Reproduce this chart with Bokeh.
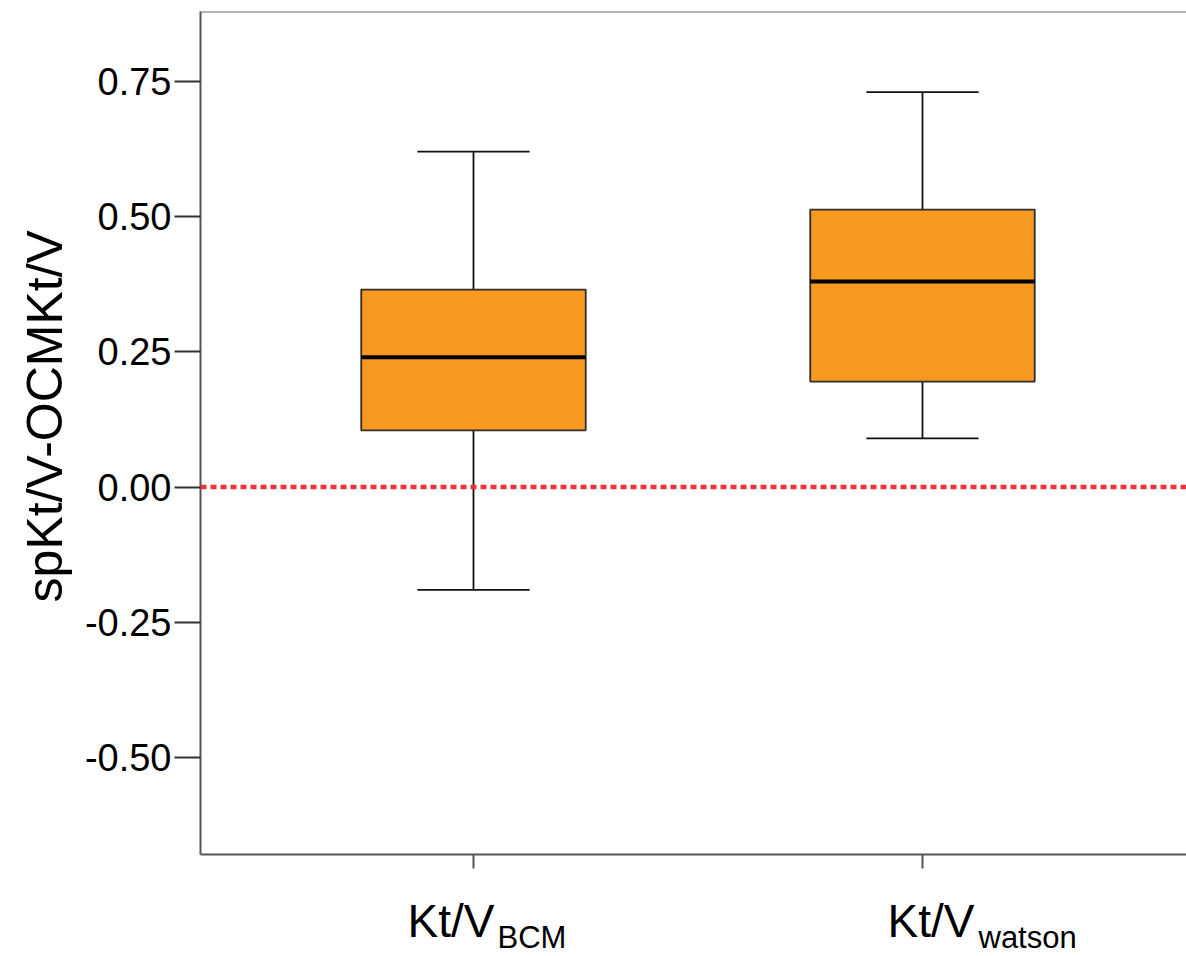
import math
from bokeh.plotting import figure
from bokeh.layouts import column, row
from bokeh.models import (ColumnDataSource, FixedTicker, Span, NumeralTickFormatter, Range1d)
from bokeh.core.properties import value
from bokeh.embed import file_html
from bokeh.resources import INLINE

# ---- data ----
categories = ["BCM", "watson"]
main_label = "Kt/V"
y_title = "spKt/V-OCMKt/V"
whisker_low = [-0.19, 0.09]
q1 = [0.105, 0.195]
median = [0.24, 0.38]
q3 = [0.365, 0.513]
whisker_high = [0.62, 0.73]
y_ticks = [-0.50, -0.25, 0.00, 0.25, 0.50, 0.75]
reference_value = 0.0

xpos = [i + 1 for i in range(len(categories))]
box_w = 0.5
cap_w = 0.25

src = ColumnDataSource(dict(
    x=xpos, lo=whisker_low, q1=q1, med=median, q3=q3, hi=whisker_high,
    xl=[x - box_w / 2 for x in xpos], xr=[x + box_w / 2 for x in xpos],
    cl=[x - cap_w / 2 for x in xpos], cr=[x + cap_w / 2 for x in xpos],
))

FONT = "Liberation Sans"
x_range = Range1d(0.392, 2.588)
y_range = Range1d(-0.679, 0.879)

LEFT_W = 75

# ---- main plot ----
p = figure(width=1186 - LEFT_W, height=895, output_backend="svg", toolbar_location=None,
           x_range=x_range, y_range=y_range,
           min_border_left=200 - LEFT_W, min_border_right=0, min_border_top=11, min_border_bottom=41)
p.outline_line_color = None
p.grid.grid_line_color = None
p.background_fill_color = "white"
p.border_fill_color = "white"

wc = "#111111"
p.segment(x0="x", y0="q3", x1="x", y1="hi", source=src, line_color=wc, line_width=1.8)
p.segment(x0="x", y0="q1", x1="x", y1="lo", source=src, line_color=wc, line_width=1.8)
p.segment(x0="cl", y0="hi", x1="cr", y1="hi", source=src, line_color=wc, line_width=1.8)
p.segment(x0="cl", y0="lo", x1="cr", y1="lo", source=src, line_color=wc, line_width=1.8)
p.vbar(x="x", width=box_w, bottom="q1", top="q3", source=src,
       fill_color="#F7991F", line_color="#2e2e2e", line_width=1.8)
p.segment(x0="xl", y0="med", x1="xr", y1="med", source=src, line_color="black", line_width=4)

p.add_layout(Span(location=reference_value, dimension="width", line_color="#EF333B",
                  line_width=4.5, line_dash="6 4"))
p.add_layout(Span(location=0.879, dimension="width", line_color="#6e6e6e", line_width=2))

ya = p.yaxis[0]
ya.ticker = FixedTicker(ticks=y_ticks)
ya.formatter = NumeralTickFormatter(format="0.00")
ya.major_label_text_font = FONT
ya.major_label_text_font_size = "38px"
ya.major_label_text_color = "black"
ya.major_label_standoff = 3
ya.major_tick_out = 26
ya.major_tick_in = 0
ya.minor_tick_out = 0
ya.minor_tick_in = 0
ya.axis_line_color = "#555555"
ya.axis_line_width = 2
ya.major_tick_line_color = "#333333"
ya.major_tick_line_width = 2

xa = p.xaxis[0]
xa.ticker = FixedTicker(ticks=xpos)
xa.major_label_overrides = {x: "" for x in xpos}
xa.major_label_text_font_size = "1px"
xa.major_label_standoff = 0
xa.major_tick_out = 14
xa.major_tick_in = 0
xa.minor_tick_out = 0
xa.minor_tick_in = 0
xa.axis_line_color = "#555555"
xa.axis_line_width = 2
xa.major_tick_line_color = "#555555"
xa.major_tick_line_width = 2

# ---- left strip with y title ----
left = figure(width=LEFT_W, height=895, output_backend="svg", toolbar_location=None,
              x_range=Range1d(0, LEFT_W), y_range=y_range,
              min_border_left=0, min_border_right=0, min_border_top=11, min_border_bottom=41)
left.axis.visible = False
left.grid.grid_line_color = None
left.outline_line_color = None
left.text(x=[44], y=[0.131], text=[y_title], angle=math.pi / 2, text_align="center",
          text_baseline="alphabetic", text_font=value(FONT), text_font_size="50px",
          text_color="black")

# ---- bottom strip with category labels ----
bottom = figure(width=1186, height=61, output_backend="svg", toolbar_location=None,
                x_range=x_range, y_range=Range1d(0, 61),
                min_border_left=200, min_border_right=0, min_border_top=0, min_border_bottom=0)
bottom.axis.visible = False
bottom.grid.grid_line_color = None
bottom.outline_line_color = None
lab = ColumnDataSource(dict(
    x=xpos, main=[main_label] * len(xpos), sub=categories,
    mo=[-66, -35], so=[24, 56],
))
bottom.text(x="x", y=36, text="main", x_offset="mo", source=lab, text_align="left",
            text_baseline="alphabetic", text_font=value(FONT), text_font_size="46px",
            text_color="black")
bottom.text(x="x", y=19, text="sub", x_offset="so", source=lab, text_align="left",
            text_baseline="alphabetic", text_font=value(FONT), text_font_size="31px",
            text_color="black")

layout = column(row(left, p, spacing=0), bottom, spacing=0)
open("out.html", "w").write(file_html(layout, INLINE))
